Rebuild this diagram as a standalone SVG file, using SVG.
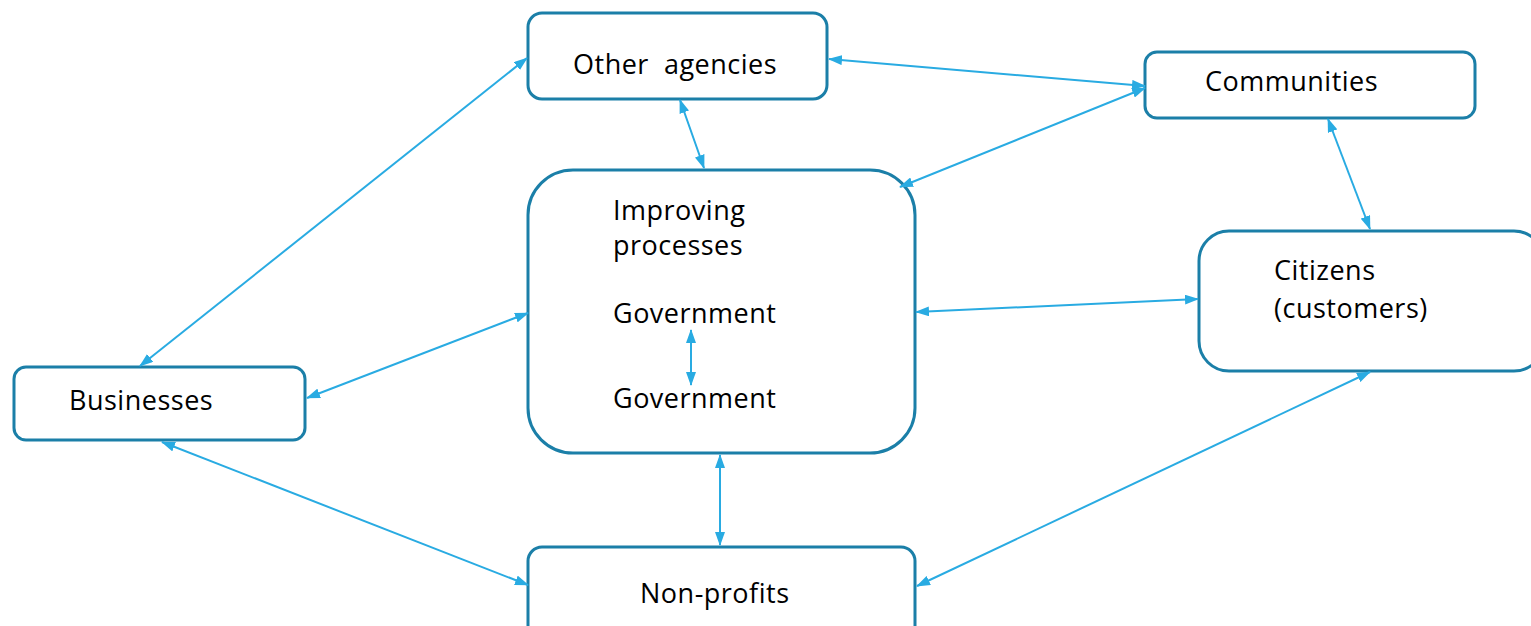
<svg xmlns="http://www.w3.org/2000/svg" width="1531" height="626" viewBox="0 0 1531 626">
<style>
.node rect{fill:#fff;stroke:#1B7FA8;stroke-width:3}
.node text{font-family:"Open Sans","Liberation Sans",sans-serif;font-size:27px;letter-spacing:0.5px;fill:#000}
.conn line{stroke:#29ABE2;stroke-width:2;marker-start:url(#a);marker-end:url(#a)}
</style>
<defs>
<marker id="a" viewBox="0 0 14 10" refX="13" refY="5" markerWidth="14" markerHeight="10" markerUnits="userSpaceOnUse" orient="auto-start-reverse">
<path d="M0,0L14,5L0,10z" fill="#29ABE2"/>
</marker>
</defs>
<rect width="1531" height="626" fill="#fff"/>
<g id="other-agencies" class="node"><rect x="528" y="13" width="299" height="86" rx="14"/><text x="573" y="74" style="white-space:pre">Other  agencies</text></g>
<g id="communities" class="node"><rect x="1145" y="52" width="330" height="66" rx="12"/><text x="1205" y="91">Communities</text></g>
<g id="citizens" class="node"><rect x="1199" y="231" width="345" height="140" rx="30"/><text x="1274" y="280">Citizens</text><text x="1274" y="318">(customers)</text></g>
<g id="central" class="node"><rect x="528" y="170" width="387" height="283" rx="45"/><text x="613" y="220">Improving</text><text x="613" y="255">processes</text><text x="613" y="323">Government</text><text x="613" y="408">Government</text></g>
<g id="businesses" class="node"><rect x="14" y="367" width="291" height="73" rx="12"/><text x="69" y="410">Businesses</text></g>
<g id="non-profits" class="node"><rect x="528" y="547" width="387" height="100" rx="14"/><text x="640" y="603">Non-profits</text></g>
<g id="connectors" class="conn">
<line x1="527" y1="58" x2="140" y2="366"/>
<line x1="829" y1="59" x2="1145" y2="86"/>
<line x1="680" y1="100" x2="704" y2="168"/>
<line x1="1145" y1="88" x2="900" y2="187"/>
<line x1="1328" y1="119" x2="1370" y2="229"/>
<line x1="916" y1="312" x2="1198" y2="299"/>
<line x1="307" y1="398" x2="528" y2="313"/>
<line x1="162" y1="442" x2="528" y2="585"/>
<line x1="720" y1="455" x2="720" y2="545"/>
<line x1="1370" y1="372" x2="917" y2="586"/>
<line x1="691" y1="330" x2="691" y2="385"/>
</g>
</svg>
